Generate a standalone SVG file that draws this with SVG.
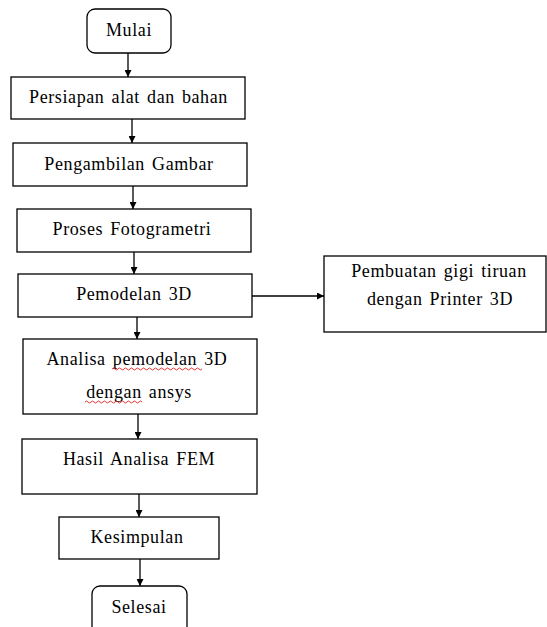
<svg xmlns="http://www.w3.org/2000/svg" width="547" height="627" viewBox="0 0 547 627">
<style>
.box{fill:#fff;stroke:#000;stroke-width:1.3}
.t{font-family:"Liberation Serif","Times New Roman",serif;font-size:18px;letter-spacing:0.6px;word-spacing:2px;fill:#000;text-anchor:middle}
.c{stroke:#000;stroke-width:1.3;fill:none}
.sq{stroke:#e02020;stroke-width:0.9;fill:none}
</style>
<defs>
<marker id="ah" viewBox="0 0 10 10" refX="10" refY="5" markerWidth="7" markerHeight="7" markerUnits="userSpaceOnUse" orient="auto">
<path d="M0,0 L10,5 L0,10 z" fill="#000"/>
</marker>
</defs>
<rect width="547" height="627" fill="#fff"/>
<g id="connectors">
<line class="c" x1="128" y1="53" x2="128" y2="77" marker-end="url(#ah)"/>
<line class="c" x1="132" y1="119" x2="132" y2="143" marker-end="url(#ah)"/>
<line class="c" x1="133" y1="186" x2="133" y2="209" marker-end="url(#ah)"/>
<line class="c" x1="134" y1="252" x2="134" y2="274" marker-end="url(#ah)"/>
<line class="c" x1="137" y1="317" x2="137" y2="339" marker-end="url(#ah)"/>
<line class="c" x1="138" y1="414" x2="138" y2="439" marker-end="url(#ah)"/>
<line class="c" x1="139" y1="494" x2="139" y2="517" marker-end="url(#ah)"/>
<line class="c" x1="140" y1="559" x2="140" y2="586" marker-end="url(#ah)"/>
<line class="c" x1="252" y1="296" x2="324" y2="296" marker-end="url(#ah)"/>
</g>
<g id="mulai"><rect class="box" x="87" y="9" width="84" height="44" rx="8"/><text class="t" x="129" y="36">Mulai</text></g>
<g id="persiapan"><rect class="box" x="11" y="77" width="234" height="42"/><text class="t" x="128.5" y="103">Persiapan alat dan bahan</text></g>
<g id="pengambilan"><rect class="box" x="13" y="143" width="234" height="43"/><text class="t" x="129" y="170">Pengambilan Gambar</text></g>
<g id="proses"><rect class="box" x="17" y="209" width="234" height="43"/><text class="t" x="132" y="235">Proses Fotogrametri</text></g>
<g id="pemodelan"><rect class="box" x="18" y="274" width="234" height="43"/><text class="t" x="134" y="300">Pemodelan 3D</text></g>
<g id="analisa"><rect class="box" x="23" y="339" width="234" height="75"/>
<text class="t" x="137" y="365">Analisa pemodelan 3D</text>
<text class="t" x="139" y="398">dengan ansys</text>
<path class="sq" d="M112,369 q1.5,-2 3,0 t3,0 t3,0 t3,0 t3,0 t3,0 t3,0 t3,0 t3,0 t3,0 t3,0 t3,0 t3,0 t3,0 t3,0 t3,0 t3,0 t3,0 t3,0 t3,0 t3,0 t3,0 t3,0 t3,0 t3,0 t3,0 t3,0 t3,0 t3,0 t3,0"/>
<path class="sq" d="M85,402 q1.5,-2 3,0 t3,0 t3,0 t3,0 t3,0 t3,0 t3,0 t3,0 t3,0 t3,0 t3,0 t3,0 t3,0 t3,0 t3,0 t3,0 t3,0 t3,0 t3,0"/>
</g>
<g id="hasil"><rect class="box" x="22" y="439" width="235" height="55"/><text class="t" x="139" y="465">Hasil Analisa FEM</text></g>
<g id="kesimpulan"><rect class="box" x="59" y="517" width="160" height="42"/><text class="t" x="137" y="543">Kesimpulan</text></g>
<g id="selesai"><rect class="box" x="92" y="586" width="95" height="60" rx="8"/><text class="t" x="139" y="613">Selesai</text></g>
<g id="pembuatan"><rect class="box" x="324" y="256" width="222" height="76"/>
<text class="t" x="439" y="277">Pembuatan gigi tiruan</text>
<text class="t" x="440" y="305">dengan Printer 3D</text></g>
</svg>
